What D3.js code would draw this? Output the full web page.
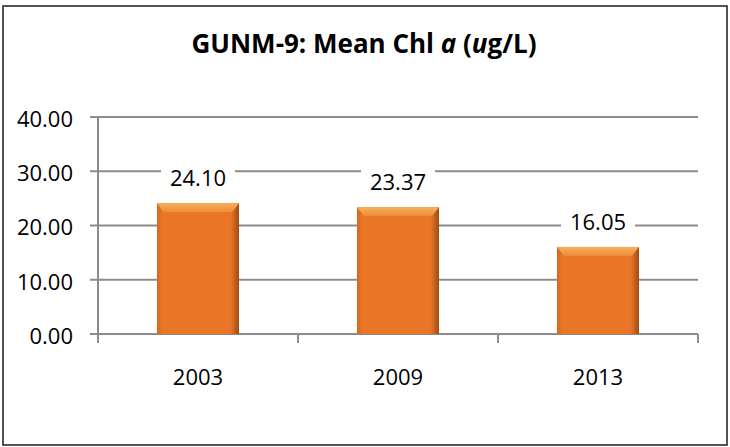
<!DOCTYPE html>
<html>
<head>
<meta charset="utf-8">
<script src="https://cdn.jsdelivr.net/npm/d3@7"></script>
<style>
    body { margin: 0; background: #fff; }
    svg text { font-family: "Open Sans", "Noto Sans", sans-serif; fill: #000; }
</style>
</head>
<body>
<div class="chart"></div>
<script>
var years = ['2003', '2009', '2013'];
var chlValues = [24.10, 23.37, 16.05];
var yTicks = [0, 10, 20, 30, 40];

var fullWidth = 730;
var fullHeight = 447;
var margin = { top: 117, right: 32, bottom: 113, left: 98 };
var width = fullWidth - margin.left - margin.right;
var height = fullHeight - margin.top - margin.bottom;

var svg = d3.select('.chart')
            .append('svg')
            .attr('width', fullWidth)
            .attr('height', fullHeight);

var defs = svg.append('defs');
var bodyGrad = defs.append('linearGradient').attr('id', 'barBody')
                   .attr('x1', 0).attr('x2', 1).attr('y1', 0).attr('y2', 0);
bodyGrad.append('stop').attr('offset', '0%').attr('stop-color', '#d9661c');
bodyGrad.append('stop').attr('offset', '6%').attr('stop-color', '#e97527');
bodyGrad.append('stop').attr('offset', '90%').attr('stop-color', '#e97527');
bodyGrad.append('stop').attr('offset', '100%').attr('stop-color', '#9e4b14');
var topGrad = defs.append('linearGradient').attr('id', 'barTop')
                  .attr('x1', 0).attr('x2', 0).attr('y1', 0).attr('y2', 1);
topGrad.append('stop').attr('offset', '0%').attr('stop-color', '#f7b15e');
topGrad.append('stop').attr('offset', '100%').attr('stop-color', '#ee8a36');

// outer frame
svg.append('rect')
   .attr('x', 3).attr('y', 6)
   .attr('width', 724).attr('height', 439)
   .attr('fill', 'none')
   .attr('stroke', '#2a2a2a')
   .attr('stroke-width', 1.6);

var title = svg.append('text')
               .attr('x', 364).attr('y', 53)
               .attr('text-anchor', 'middle')
               .style('font-weight', 'bold')
               .style('font-size', '24px');
title.append('tspan').text('GUNM-9: Mean Chl ');
title.append('tspan').style('font-style', 'italic').text('a');
title.append('tspan').text(' (');
title.append('tspan').style('font-style', 'italic').text('u');
title.append('tspan').text('g/L)');
// fit title width to the reference
var tw = title.node().getComputedTextLength();
title.style('font-size', (24 * 345 / tw) + 'px');

var g = svg.append('g')
           .attr('transform', 'translate(' + margin.left + ',' + margin.top + ')');

var x = d3.scaleBand()
          .domain(years)
          .range([0, width])
          .paddingInner(0.59)
          .paddingOuter(0.295);

var y = d3.scaleLinear()
          .domain([0, 40])
          .range([height, 0]);

// gridlines
g.append('g')
 .selectAll('line')
 .data(yTicks)
 .enter().append('line')
 .attr('x1', -8).attr('x2', width)
 .attr('y1', function (d) { return y(d); })
 .attr('y2', function (d) { return y(d); })
 .attr('stroke', '#8c8c8c')
 .attr('stroke-width', 2);

// y axis line
g.append('line')
 .attr('x1', 0).attr('x2', 0)
 .attr('y1', 0).attr('y2', height + 9)
 .attr('stroke', '#8c8c8c')
 .attr('stroke-width', 2);

// x ticks between categories
var step = width / years.length;
g.append('g')
 .selectAll('line')
 .data(d3.range(years.length + 1))
 .enter().append('line')
 .attr('x1', function (i) { return i * step; })
 .attr('x2', function (i) { return i * step; })
 .attr('y1', height).attr('y2', height + 9)
 .attr('stroke', '#8c8c8c')
 .attr('stroke-width', 2);

// y tick labels
g.append('g')
 .selectAll('text')
 .data(yTicks)
 .enter().append('text')
 .attr('x', -25)
 .attr('y', function (d) { return y(d) + 2; })
 .attr('dy', '0.36em')
 .attr('text-anchor', 'end')
 .style('font-size', '22px')
 .text(function (d) { return d.toFixed(2); });

// bars
var bars = g.selectAll('.bar')
            .data(years)
            .enter().append('g')
            .attr('class', 'bar');

bars.append('rect')
    .attr('x', function (d) { return x(d); })
    .attr('y', function (d, i) { return y(chlValues[i]); })
    .attr('width', x.bandwidth())
    .attr('height', function (d, i) { return height - y(chlValues[i]); })
    .attr('fill', 'url(#barBody)');

bars.append('path')
    .attr('d', function (d, i) {
        var x0 = x(d), x1 = x(d) + x.bandwidth(), t = y(chlValues[i]);
        return 'M' + x0 + ',' + t + 'L' + x1 + ',' + t +
               'L' + (x1 - 7) + ',' + (t + 9) + 'L' + (x0 + 7) + ',' + (t + 9) + 'Z';
    })
    .attr('fill', 'url(#barTop)');

// value labels with white box
var labels = g.selectAll('.val')
              .data(years)
              .enter().append('g')
              .attr('class', 'val')
              .attr('transform', function (d, i) {
                  return 'translate(' + (x(d) + x.bandwidth() / 2) + ',' + (y(chlValues[i]) - 25) + ')';
              });

labels.append('rect')
      .attr('x', -37).attr('y', -13)
      .attr('width', 74).attr('height', 26)
      .attr('fill', '#fff');

labels.append('text')
      .attr('text-anchor', 'middle')
      .attr('dy', '0.36em')
      .style('font-size', '22px')
      .text(function (d, i) { return chlValues[i].toFixed(2); });

// category labels
g.append('g')
 .selectAll('text')
 .data(years)
 .enter().append('text')
 .attr('x', function (d) { return x(d) + x.bandwidth() / 2; })
 .attr('y', height + 43)
 .attr('dy', '0.36em')
 .attr('text-anchor', 'middle')
 .style('font-size', '22px')
 .text(function (d) { return d; });
</script>
</body>
</html>
